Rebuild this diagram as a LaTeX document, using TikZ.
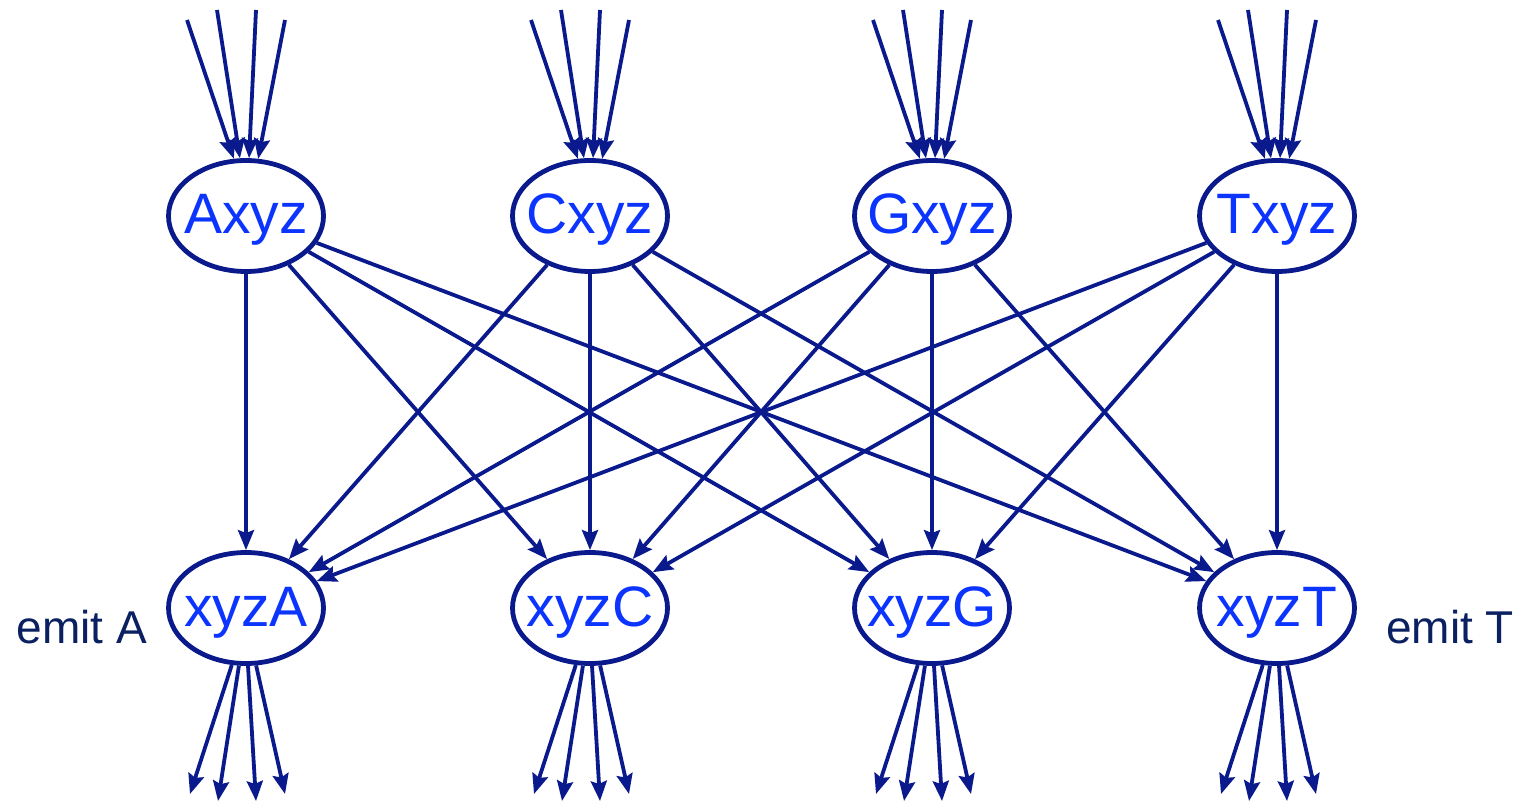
\documentclass[tikz,border=0pt]{standalone}
\usepackage{fontspec}
\setmainfont{Liberation Sans}
\usetikzlibrary{shapes.geometric,arrows.meta}
\definecolor{navy}{RGB}{10,26,140}
\definecolor{txtblue}{RGB}{12,52,255}
\definecolor{emitcol}{RGB}{10,32,96}
\newcommand{\ntext}[1]{\makebox[0pt]{\raisebox{-18pt}[0pt][0pt]{#1}}}
\tikzset{
  st/.style={ellipse,draw=navy,line width=4.8pt,minimum width=155pt,minimum height=111pt,inner sep=0pt,
    text=txtblue,font=\fontsize{57pt}{57pt}\selectfont},
  arr/.style={draw=navy,line width=3.8pt,-{Stealth[length=20pt,width=16pt,inset=3pt]}},
  emit/.style={text=emitcol,font=\fontsize{46pt}{46pt}\selectfont}
}
\begin{document}
\begin{tikzpicture}[x=1pt,y=-1pt]
\useasboundingbox (0,0) rectangle (1520,802);
\foreach \n/\x in {A/246,C/590,G/932,T/1277}{
  \node[st] (\n xyz) at (\x,216) {\ntext{\n xyz}};
  \node[st] (xyz\n) at (\x,608) {\ntext{xyz\n}};
  \coordinate (\n in1) at (\x-59,20);
  \coordinate (\n in2) at (\x-29,10);
  \coordinate (\n in3) at (\x+10,10);
  \coordinate (\n in4) at (\x+39,20);
  \coordinate (\n out1) at (\x-56,794);
  \coordinate (\n out2) at (\x-28,801);
  \coordinate (\n out3) at (\x+10,801);
  \coordinate (\n out4) at (\x+39,794);
}
\foreach \n in {A,C,G,T}{
  \draw[arr] (\n in1) -- (\n xyz.102.6);
  \draw[arr] (\n in2) -- (\n xyz.96.6);
  \draw[arr] (\n in3) -- (\n xyz.87.8);
  \draw[arr] (\n in4) -- (\n xyz.78.9);
  \draw[arr] (xyz\n.256) -- (\n out1);
  \draw[arr] (xyz\n.263.4) -- (\n out2);
  \draw[arr] (xyz\n.272.2) -- (\n out3);
  \draw[arr] (xyz\n.280.3) -- (\n out4);
  \foreach \m in {A,C,G,T}{
    \draw[arr] (\n xyz) -- (xyz\m);
  }
}
\node[emit,anchor=base] (emitA) at (82,643) {emit A};
\node[emit,anchor=base] (emitT) at (1450,643) {emit T};
\end{tikzpicture}
\end{document}
